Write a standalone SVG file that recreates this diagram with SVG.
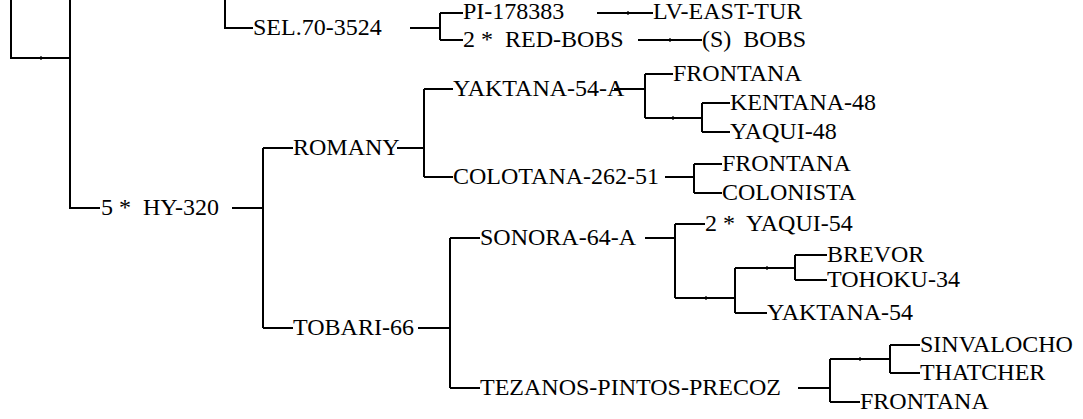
<svg xmlns="http://www.w3.org/2000/svg" width="1083" height="419" viewBox="0 0 1083 419">
<style>
text{font-family:"Liberation Serif","Times New Roman",serif;font-size:24px;fill:#000;white-space:pre}
.c{fill:none;stroke:#000;stroke-width:2}
.t{fill:none;stroke:#000;stroke-width:1.2}
</style>
<rect width="1083" height="419" fill="#fff"/>
<g id="connectors">
<path class="c" d="M11,0V58H70M70,0V208H100M225,0V28H253M410,28H440M440,13V40M440,13H463M440,40H463M597,13H653M638,40H702M232,208H263M263,148V328M263,148H293M263,328H293M397,148H424M424,89V177M424,89H453M424,177H453M614,89H645M645,74V118M645,74H673M645,118H702M702,103V132M702,103H730M702,132H730M665,177H694M694,164V193M694,164H722M694,193H722M418,328H450M450,238V388M450,238H480M450,388H480M645,238H675M675,224V298M675,224H705M675,298H735M735,268V313M735,313H767M735,268H795M795,255V280M795,255H827M795,280H827M798,388H830M830,359V402M830,402H860M830,359H890M890,345V373M890,345H920M890,373H920"/>
<path class="t" d="M41,56V60M628,11V15M670,38V42M673,116V120M706,296V300M767,266V270M860,357V361"/>
</g>
<g id="n-sel"><text x="253" y="35">SEL.70-3524</text></g>
<g id="n-pi"><text x="463" y="19">PI-178383</text></g>
<g id="n-lv"><text x="653" y="19">LV-EAST-TUR</text></g>
<g id="n-redbobs"><text x="463" y="47">2 *  RED-BOBS</text></g>
<g id="n-bobs"><text x="702" y="47">(S)  BOBS</text></g>
<g id="n-hy"><text x="101" y="215">5 *  HY-320</text></g>
<g id="n-romany"><text x="293" y="155">ROMANY</text></g>
<g id="n-yaktana54a"><text x="453" y="96">YAKTANA-54-A</text></g>
<g id="n-frontana1"><text x="673" y="81">FRONTANA</text></g>
<g id="n-kentana"><text x="730" y="110">KENTANA-48</text></g>
<g id="n-yaqui48"><text x="730" y="139">YAQUI-48</text></g>
<g id="n-colotana"><text x="453" y="184">COLOTANA-262-51</text></g>
<g id="n-frontana2"><text x="722" y="171">FRONTANA</text></g>
<g id="n-colonista"><text x="722" y="200">COLONISTA</text></g>
<g id="n-tobari"><text x="293" y="335">TOBARI-66</text></g>
<g id="n-sonora"><text x="480" y="245">SONORA-64-A</text></g>
<g id="n-yaqui54"><text x="705" y="231">2 *  YAQUI-54</text></g>
<g id="n-brevor"><text x="827" y="262">BREVOR</text></g>
<g id="n-tohoku"><text x="827" y="287">TOHOKU-34</text></g>
<g id="n-yaktana54"><text x="767" y="320">YAKTANA-54</text></g>
<g id="n-tezanos"><text x="480" y="395">TEZANOS-PINTOS-PRECOZ</text></g>
<g id="n-frontana3"><text x="860" y="409">FRONTANA</text></g>
<g id="n-sinvalocho"><text x="920" y="352">SINVALOCHO</text></g>
<g id="n-thatcher"><text x="920" y="380">THATCHER</text></g>
</svg>
